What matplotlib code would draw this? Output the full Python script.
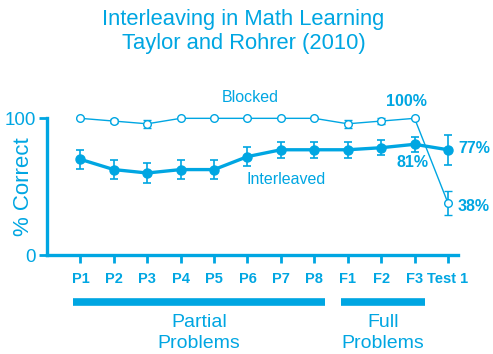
import matplotlib
matplotlib.use("Agg")
import matplotlib.pyplot as plt
import matplotlib.transforms as mtransforms

plt.rcParams['font.family'] = ['Liberation Sans', 'DejaVu Sans']

BLUE = "#00A6E2"

sessions = ["P1", "P2", "P3", "P4", "P5", "P6", "P7", "P8", "F1", "F2", "F3", "Test 1"]
blocked = [100, 98, 96, 100, 100, 100, 100, 100, 96, 98, 100, 38]
blocked_err = [0, 1.5, 3, 0, 0, 0, 0, 0, 3, 2.5, 0, 9]
interleaved = [70, 62.5, 60, 62.5, 62.5, 72, 77, 77, 77, 78.5, 81, 77]
interleaved_err = [7, 7, 7, 7, 7, 7, 6, 6, 6, 5.5, 5.5, 11]
groups = [("Partial\nProblems", 0, 7), ("Full\nProblems", 8, 10)]

fig = plt.figure(figsize=(4.93, 3.54), dpi=100)
ax = fig.add_axes([47 / 493, 1 - 255 / 354, (458 - 47) / 493, 164 / 354])

x = list(range(len(sessions)))

ax.errorbar(x, blocked, yerr=blocked_err, color=BLUE, lw=1.0, marker="o",
            ms=5.5, mfc="white", mec=BLUE, mew=1.0, capsize=3, elinewidth=1.2,
            capthick=1.2, zorder=3)
ax.errorbar(x, interleaved, yerr=interleaved_err, color=BLUE, lw=2.4, marker="o",
            ms=6.5, mfc=BLUE, mec=BLUE, capsize=3, elinewidth=1.2,
            capthick=1.2, zorder=4)

ax.set_xlim(-1, 11.3)
ax.set_ylim(0, 120)
ax.set_yticks([0, 100])
ax.set_xticks(x)
ax.set_xticklabels(sessions, fontsize=10.5, fontweight="bold", color=BLUE)
ax.set_yticklabels(["0", "100"], fontsize=13.5, color=BLUE)
ax.set_ylabel("% Correct", fontsize=16, color=BLUE, va="center")
ax.yaxis.set_label_coords(-0.058, 0.415)

for side in ("top", "right"):
    ax.spines[side].set_visible(False)
for side in ("left", "bottom"):
    ax.spines[side].set_color(BLUE)
    ax.spines[side].set_linewidth(2.4)
ax.spines["left"].set_bounds(0, 100)
ax.tick_params(axis="both", colors=BLUE, width=2, length=6, direction="out")
ax.tick_params(axis="x", pad=6)
ax.tick_params(axis="y", pad=2)

# series names and value callouts
ax.text(5.08, 115, "Blocked", color=BLUE, fontsize=11.5, ha="center", va="center")
ax.text(6.17, 55.5, "Interleaved", color=BLUE, fontsize=11.5, ha="center", va="center")
ax.text(9.77, 112, f"{blocked[10]:.0f}%", color=BLUE, fontsize=11.5,
        fontweight="bold", ha="center", va="center")
ax.text(9.95, 67.5, f"{interleaved[10]:.0f}%", color=BLUE, fontsize=11.5,
        fontweight="bold", ha="center", va="center")
ax.text(11.3, 78, f"{interleaved[11]:.0f}%", color=BLUE, fontsize=11.5,
        fontweight="bold", ha="left", va="center", clip_on=False)
ax.text(11.3, 35.3, f"{blocked[11]:.0f}%", color=BLUE, fontsize=11.5,
        fontweight="bold", ha="left", va="center", clip_on=False)

# brackets grouping the practice sessions
trans = mtransforms.blended_transform_factory(ax.transData, ax.transAxes)
for label, start, end in groups:
    ax.plot([start - 0.21, end + 0.32], [-0.287, -0.287], color=BLUE, lw=5.5,
            solid_capstyle="butt", transform=trans, clip_on=False)
    ax.text((start + end) / 2 + 0.05, -0.36, label, color=BLUE, fontsize=14,
            ha="center", va="top", linespacing=1.3, transform=trans)

fig.text(0.494, 0.975, "Interleaving in Math Learning\nTaylor and Rohrer (2010)",
         color=BLUE, fontsize=15.8, ha="center", va="top", linespacing=1.2)

fig.savefig("out.png", dpi=100)
